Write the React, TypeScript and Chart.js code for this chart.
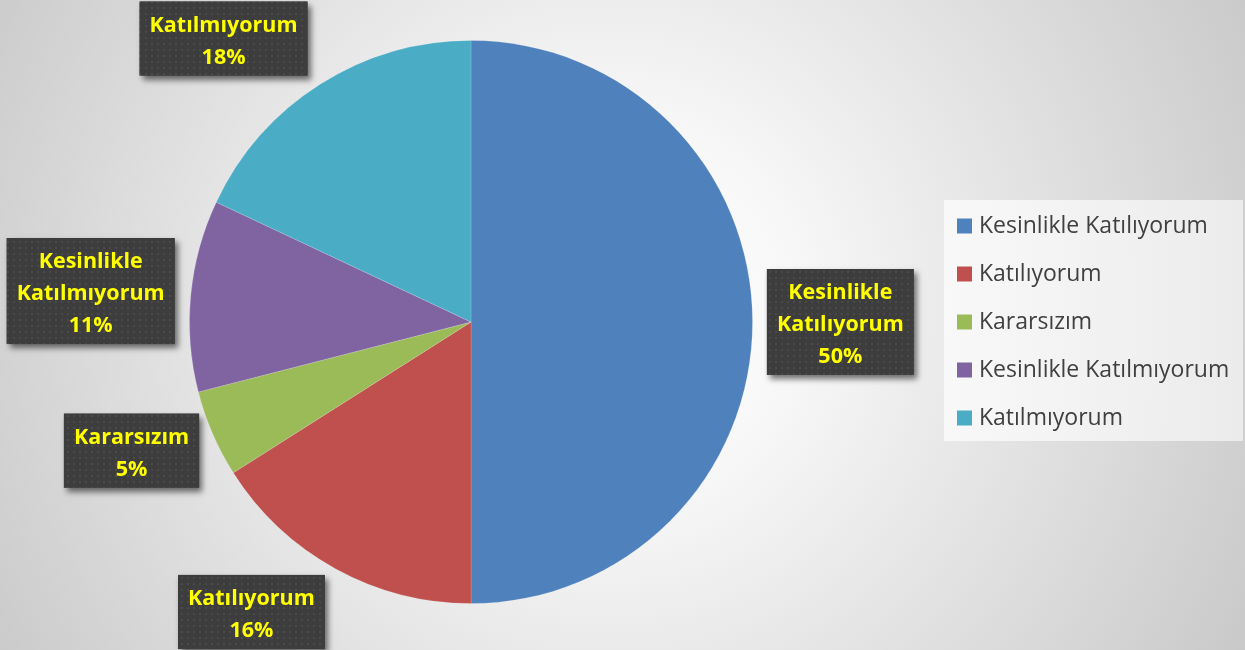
import React, { useEffect, useRef } from "react";
import { Chart, registerables } from "chart.js";

Chart.register(...registerables);

const categories = [
  "Kesinlikle Katılıyorum",
  "Katılıyorum",
  "Kararsızım",
  "Kesinlikle Katılmıyorum",
  "Katılmıyorum",
];
const values = [50, 16, 5, 11, 18];
const colors = ["#4F81BD", "#C0504D", "#9BBB59", "#8064A2", "#4BACC6"];
// label text lines (excluding percentage line)
const labelLines = [
  ["Kesinlikle", "Katılıyorum"],
  ["Katılıyorum"],
  ["Kararsızım"],
  ["Kesinlikle", "Katılmıyorum"],
  ["Katılmıyorum"],
];
// label box centre offsets, in units of the pie radius from its centre
const labelOffsets = [
  [1.312, 0.0],
  [-0.78, 1.03],
  [-1.206, 0.457],
  [-1.351, -0.11],
  [-0.879, -1.007],
];

const LABEL_FONT = "bold 21.5px 'Open Sans'";
const LEGEND_FONT = "23px 'Open Sans'";

function makePattern(ctx: CanvasRenderingContext2D) {
  const c = document.createElement("canvas");
  c.width = 6;
  c.height = 6;
  const p = c.getContext("2d")!;
  p.fillStyle = "#3d3d3d";
  p.fillRect(0, 0, 6, 6);
  p.fillStyle = "#4a4a4a";
  p.fillRect(1, 1, 2, 2);
  return ctx.createPattern(c, "repeat")!;
}

const decorPlugin = {
  id: "decor",
  beforeDraw(chart: any) {
    const ctx = chart.ctx as CanvasRenderingContext2D;
    const w = chart.width;
    const h = chart.height;
    ctx.save();
    const g = ctx.createRadialGradient(610, 310, 0, 610, 310, 720);
    g.addColorStop(0, "#ffffff");
    g.addColorStop(0.25, "#f8f8f8");
    g.addColorStop(1, "#c9c9c9");
    ctx.fillStyle = g;
    ctx.fillRect(0, 0, w, h);

    // legend box
    const lx = 944;
    const ly = 200;
    const lg = ctx.createLinearGradient(lx, 0, w, 0);
    lg.addColorStop(0, "rgba(250,250,250,0.9)");
    lg.addColorStop(1, "rgba(238,238,238,0.9)");
    ctx.fillStyle = lg;
    ctx.fillRect(lx, ly, w - lx - 2, 241);

    const labels = chart.data.labels as string[];
    const ds = chart.data.datasets[0];
    ctx.font = LEGEND_FONT;
    ctx.textBaseline = "middle";
    labels.forEach((lab, i) => {
      const y = 226 + i * 48;
      ctx.fillStyle = ds.backgroundColor[i];
      ctx.fillRect(957, y - 7.5, 15, 15);
      ctx.fillStyle = "#404040";
      ctx.fillText(lab, 979, y);
    });
    ctx.restore();
  },
  afterDraw(chart: any) {
    const ctx = chart.ctx as CanvasRenderingContext2D;
    const meta = chart.getDatasetMeta(0);
    const arc0 = meta.data[0];
    if (!arc0) return;
    const cx = arc0.x;
    const cy = arc0.y;
    const r = arc0.outerRadius;
    const total = (chart.data.datasets[0].data as number[]).reduce(
      (a: number, b: number) => a + b,
      0
    );
    const pattern = makePattern(ctx);
    ctx.save();
    ctx.font = LABEL_FONT;
    (chart.data.datasets[0].data as number[]).forEach((v, i) => {
      const lines = [...labelLines[i], Math.round((v / total) * 100) + "%"];
      const tw = Math.max(...lines.map((l) => ctx.measureText(l).width));
      const lh = 32;
      const bw = tw + 20;
      const bh = lines.length * lh + 10;
      const bx = cx + labelOffsets[i][0] * r - bw / 2;
      const by = cy + labelOffsets[i][1] * r - bh / 2;
      ctx.save();
      ctx.shadowColor = "rgba(0,0,0,0.55)";
      ctx.shadowBlur = 6;
      ctx.shadowOffsetX = 3;
      ctx.shadowOffsetY = 4;
      ctx.fillStyle = "#3d3d3d";
      ctx.fillRect(bx, by, bw, bh);
      ctx.restore();
      ctx.fillStyle = pattern;
      ctx.fillRect(bx, by, bw, bh);
      ctx.fillStyle = "#FFFF00";
      ctx.textAlign = "center";
      ctx.textBaseline = "middle";
      lines.forEach((l, k) => {
        ctx.fillText(l, bx + bw / 2, by + 8 + lh / 2 + k * lh);
      });
    });
    ctx.restore();
  },
};

export default function App() {
  const ref = useRef<HTMLCanvasElement>(null);
  useEffect(() => {
    const chart = new Chart(ref.current!, {
      type: "pie",
      data: {
        labels: categories,
        datasets: [
          {
            data: values,
            backgroundColor: colors,
            borderColor: "rgba(255,255,255,0.15)",
            borderWidth: 1,
          },
        ],
      },
      options: {
        animation: false,
        responsive: false,
        rotation: 0,
        layout: { padding: { left: 189, right: 492, top: 40, bottom: 46 } },
        plugins: {
          legend: { display: false },
          tooltip: { enabled: false },
        },
      },
      plugins: [decorPlugin],
    });
    return () => chart.destroy();
  }, []);
  return (
    <div style={{ position: "fixed", left: 0, top: 0, width: 1245, height: 650 }}>
      <canvas ref={ref} width={1245} height={650} />
    </div>
  );
}
